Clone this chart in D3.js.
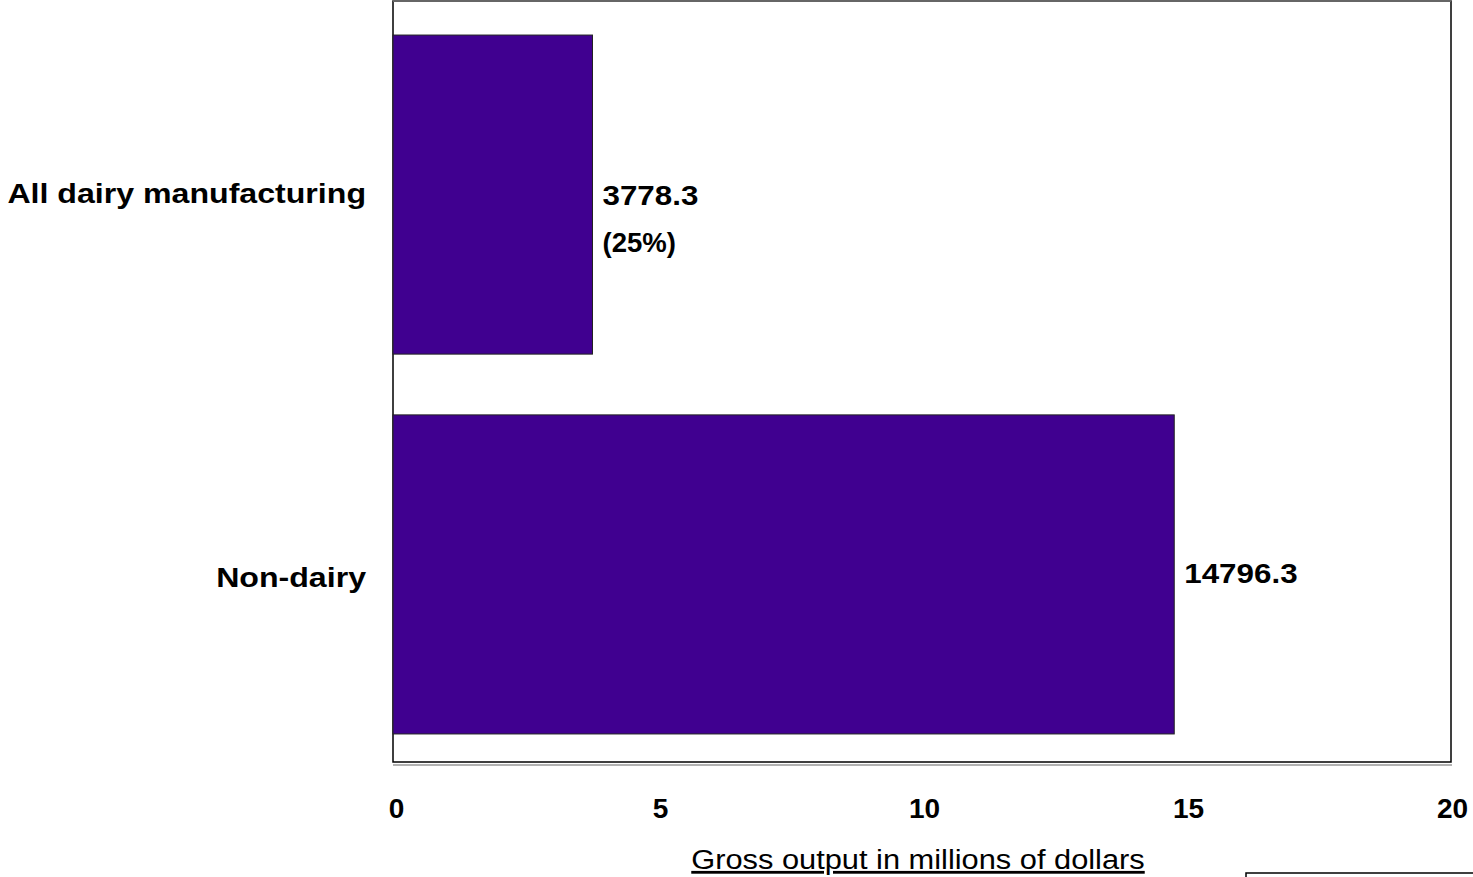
<!DOCTYPE html>
<html>
<head>
<meta charset="utf-8">
<script src="https://cdn.jsdelivr.net/npm/d3@7"></script>
<style>
  html, body { margin: 0; padding: 0; background: #fff; }
  svg { display: block; font-family: "Liberation Sans", Arial, sans-serif; }
</style>
</head>
<body>
<svg id="chart" width="1473" height="877"></svg>
<script>
// Gross output by sector (thousands of dollars shown on a 0–20 scale)
const categories = ["All dairy manufacturing", "Non-dairy"];
const values = [3778.3, 14796.3];
const shareLabels = ["(25%)", ""];
const tickValues = [0, 5, 10, 15, 20];
const axisTitle = "Gross output in millions of dollars";

const svg = d3.select("#chart");
const plotLeft = 393, plotRight = 1451, plotTop = 1, plotBottom = 762;

const x = d3.scaleLinear().domain([0, 20]).range([plotLeft, 1449]);
const y = d3.scaleBand().domain(categories).range([2, 767])
  .paddingInner(0.16).paddingOuter(0.087);

// text with a slight horizontal stretch, positioned by its baseline
function label(px, py, str, opts) {
  const g = svg.append("g").attr("transform", `translate(${px},${py}) scale(${opts.sx || 1},1)`);
  return g.append("text")
    .attr("text-anchor", opts.anchor || "start")
    .attr("font-size", opts.size)
    .attr("font-weight", opts.weight || "bold")
    .attr("fill", "#000")
    .text(str);
}

// plot frame
svg.append("rect")
  .attr("x", plotLeft).attr("y", plotTop)
  .attr("width", plotRight - plotLeft).attr("height", plotBottom - plotTop)
  .attr("fill", "#fff").attr("stroke", "#000").attr("stroke-width", 1.5);
svg.append("line")
  .attr("x1", plotLeft).attr("x2", plotRight)
  .attr("y1", plotTop).attr("y2", plotTop)
  .attr("stroke", "#666").attr("stroke-width", 2);
svg.append("line")
  .attr("x1", plotLeft).attr("x2", plotRight + 1)
  .attr("y1", plotBottom + 3).attr("y2", plotBottom + 3)
  .attr("stroke", "#999").attr("stroke-width", 1.5);

// bars
svg.selectAll("rect.bar")
  .data(categories)
  .join("rect")
  .attr("class", "bar")
  .attr("x", x(0))
  .attr("y", d => y(d))
  .attr("width", (d, i) => x(values[i] / 1000) - x(0))
  .attr("height", y.bandwidth())
  .attr("fill", "#400090")
  .attr("stroke", "#222")
  .attr("stroke-width", 1);

// category labels
const catBaselines = [203, 587];
categories.forEach((c, i) => {
  label(366, catBaselines[i], c, { size: 27, sx: 1.19, anchor: "end" });
});

// value labels
const valBaselines = [205, 583];
categories.forEach((c, i) => {
  label(x(values[i] / 1000) + 10, valBaselines[i], values[i].toFixed(1), { size: 28, sx: 1.12 });
  if (shareLabels[i]) {
    label(x(values[i] / 1000) + 10, 252, shareLabels[i], { size: 27, sx: 1.02 });
  }
});

// x axis tick labels
tickValues.forEach(t => {
  label(x(t) + 3.5, 818, String(t), { size: 28, sx: 1.0, anchor: "middle" });
});

// axis title
label(918, 869, axisTitle, { size: 28, sx: 1.1, weight: "normal", anchor: "middle" })
  .attr("text-decoration", "underline");

// box in lower right corner
svg.append("rect")
  .attr("x", 1246).attr("y", 873)
  .attr("width", 240).attr("height", 20)
  .attr("fill", "#fff").attr("stroke", "#000").attr("stroke-width", 1.5);
</script>
</body>
</html>
